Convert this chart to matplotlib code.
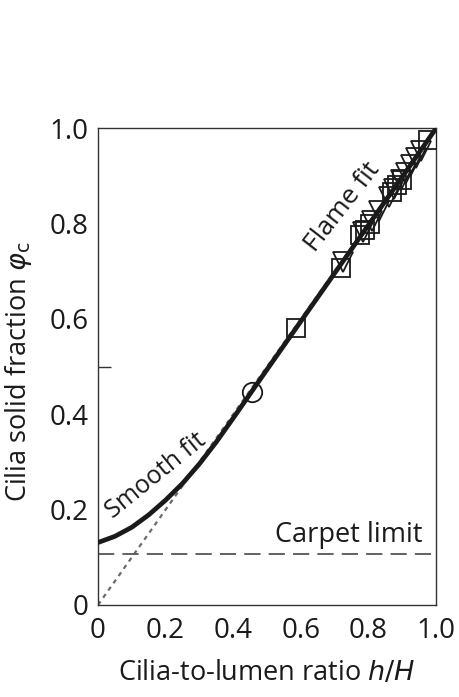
import numpy as np
import matplotlib
matplotlib.use('Agg')
import matplotlib.pyplot as plt

plt.rcParams['font.family'] = ['Open Sans', 'DejaVu Sans']
plt.rcParams['mathtext.fontset'] = 'dejavusans'

# smooth / flame fit curve
fit_x = [0.0, 0.05, 0.10, 0.15, 0.20, 0.25, 0.30, 0.35, 0.40, 0.45, 0.50,
         0.60, 0.70, 0.80, 0.90, 1.00]
fit_y = [0.131, 0.144, 0.163, 0.189, 0.220, 0.255, 0.296, 0.342, 0.392, 0.443, 0.494,
         0.595, 0.696, 0.797, 0.898, 1.000]

# simulation points
circ_x = [0.455]
circ_y = [0.447]
sq_x = [0.586, 0.719, 0.775, 0.790, 0.805, 0.870, 0.885, 0.900, 0.976]
sq_y = [0.581, 0.707, 0.776, 0.786, 0.800, 0.866, 0.880, 0.892, 0.975]
tri_x = [0.725, 0.785, 0.810, 0.830, 0.860, 0.875, 0.895, 0.910, 0.925, 0.940, 0.955]
tri_y = [0.720, 0.782, 0.806, 0.826, 0.856, 0.872, 0.892, 0.906, 0.922, 0.938, 0.952]

carpet = 0.107

xticks = [0, 0.2, 0.4, 0.6, 0.8, 1.0]
xlabels = ['0', '0.2', '0.4', '0.6', '0.8', '1.0']
yticks = [0, 0.2, 0.4, 0.6, 0.8, 1.0]
ylabels = ['0', '0.2', '0.4', '0.6', '0.8', '1.0']

fig = plt.figure(figsize=(4.6, 6.97), dpi=100)
ax = fig.add_axes([0.213, 0.132, 0.735, 0.684])

ax.plot([0, 1], [0, 1], ls=(0, (2, 2)), color='#6b6b6b', lw=1.6, zorder=2)
ax.axhline(carpet, ls=(0, (9, 4.5)), color='#555555', lw=1.3, zorder=2)
ax.plot(fit_x, fit_y, color='#1a1a1a', lw=3.4, zorder=3, solid_capstyle='butt')

mk = dict(mfc='none', mec='#1a1a1a', mew=1.3, ls='none', zorder=4)
ax.plot(circ_x, circ_y, marker='o', ms=14, **mk)
ax.plot(sq_x, sq_y, marker='s', ms=13, **mk)
ax.plot(tri_x, tri_y, marker='v', ms=15, **mk)

ax.set_xlim(0, 1)
ax.set_ylim(0, 1)
ax.set_xticks(xticks)
ax.set_xticklabels(xlabels)
ax.set_yticks(yticks)
ax.set_yticklabels(ylabels)
ax.tick_params(axis='x', direction='in', length=0, pad=9, labelsize=20, colors='#1a1a1a')
ax.tick_params(axis='y', direction='in', length=0, pad=7, labelsize=20, colors='#1a1a1a')
# inner ticks shown in the figure
ax.set_xticks([0.2, 0.4, 0.6, 0.8], minor=True)
ax.set_yticks([0.5], minor=True)
ax.tick_params(which='minor', direction='in', length=9, width=1.0, color='#333333')

for s in ax.spines.values():
    s.set_color('#333333')
    s.set_linewidth(1.0)

ax.set_xlabel(r'Cilia-to-lumen ratio $h/H$', fontsize=19.5, color='#1a1a1a', labelpad=10)
ax.set_ylabel(r'Cilia solid fraction $\varphi_{\mathrm{c}}$', fontsize=19.5, color='#1a1a1a')
ax.yaxis.set_label_coords(-0.19, 0.49)

ax.text(0.172, 0.272, 'Smooth fit', rotation=39, ha='center', va='center',
        fontsize=18, color='#1a1a1a', rotation_mode='anchor')
ax.text(0.722, 0.834, 'Flame fit', rotation=52, ha='center', va='center',
        fontsize=19, color='#1a1a1a', rotation_mode='anchor')
ax.text(0.96, 0.147, 'Carpet limit', ha='right', va='center',
        fontsize=19.5, color='#1a1a1a')

fig.savefig('out.png', dpi=100)
